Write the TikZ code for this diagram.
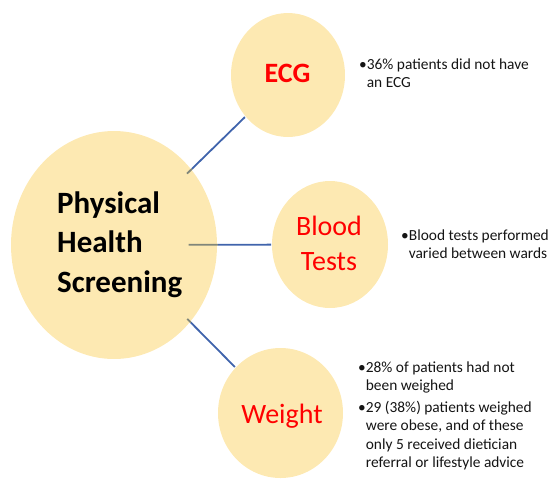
\documentclass[tikz,border=0pt]{standalone}
\usepackage{fontspec}
\setmainfont{Carlito}
\usetikzlibrary{shapes.geometric,calc}
\definecolor{circfill}{RGB}{253,233,178}
\definecolor{connblue}{RGB}{64,100,172}
\definecolor{stubgray}{RGB}{128,134,122}
\definecolor{bulletcol}{RGB}{20,20,20}
\tikzset{
  circ/.style={ellipse, fill=circfill, draw=none, inner sep=0pt, outer sep=1pt},
  conn/.style={draw=connblue, line width=1.8pt},
  stub/.style={draw=stubgray, line width=1.8pt},
  bigtext/.style={font=\fontsize{31}{39.5}\selectfont\bfseries, text=black, align=left, inner sep=0pt, anchor=base west},
  redtext/.style={font=\fontsize{28}{35}\selectfont, text=red, inner sep=0pt, anchor=base},
  bullettext/.style={font=\fontsize{15.4}{18.5}\selectfont, text=bulletcol, inner sep=0pt, anchor=base west}
}
\newcommand{\bulletlist}[1]{{\setlength\tabcolsep{0pt}\begin{tabular}[t]{@{}l@{}l@{}}#1\end{tabular}}}
\begin{document}
\begin{tikzpicture}[x=1pt,y=-1pt]
\useasboundingbox (0,0) rectangle (560,480);
% circles
\node[circ, minimum width=206pt, minimum height=228pt] (big) at (114,245) {};
\node[circ, minimum width=114pt, minimum height=124pt] (ecg) at (288,75) {};
\node[circ, minimum width=116pt, minimum height=127pt] (blood) at (330,244.5) {};
\node[circ, minimum width=125pt, minimum height=130pt] (weight) at (280.5,413) {};
% connectors
\path[conn] (big) -- (ecg);
\path[conn] (big) -- (blood);
\path[conn] (big) -- (weight);
\coordinate (s1) at ($(big)!0.42!(ecg)$);
\coordinate (s2) at ($(big)!0.345!(blood)$);
\coordinate (s3) at ($(big)!0.44!(weight)$);
\path[stub] (s1) -- (big);
\path[stub] (s2) -- (big);
\path[stub] (s3) -- (big);
% texts
\node[bigtext] (t1) at (57,213) {Physical};
\node[bigtext] (t2) at (57,252.5) {Health};
\node[bigtext] (t3) at (57,292) {Screening};
\node[redtext, font=\fontsize{28}{35}\selectfont\bfseries] (tecg) at (287.5,82) {ECG};
\node[redtext] (tblood1) at (329,235) {Blood};
\node[redtext] (tblood2) at (329,270) {Tests};
\node[redtext] (tweight) at (282,423) {Weight};
\node[bullettext] (becg) at (359,69) {\bulletlist{•&36\% patients did not have\\ &an ECG}};
\node[bullettext] (bblood) at (401,240) {\bulletlist{•&Blood tests performed\\ &varied between wards}};
\node[bullettext] (bweight) at (358,372) {\bulletlist{•&28\% of patients had not\\ &been weighed\\[3pt]
•&29 (38\%) patients weighed\\ &were obese, and of these\\ &only 5 received dietician\\ &referral or lifestyle advice}};
\end{tikzpicture}
\end{document}
